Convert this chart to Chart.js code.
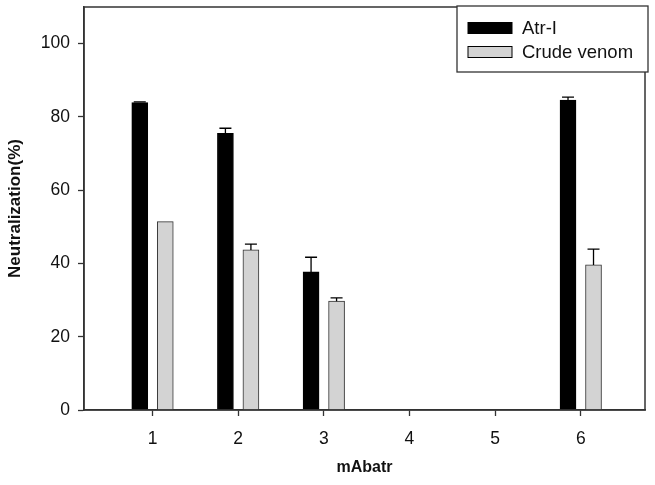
<!DOCTYPE html>
<html>
<head>
<meta charset="utf-8">
<script src="https://cdn.jsdelivr.net/npm/chart.js@4.4.1/dist/chart.umd.min.js"></script>
<style>
  html, body { margin: 0; padding: 0; background: #fff; }
  #wrap { width: 655px; height: 485px; }
</style>
</head>
<body>
<div id="wrap"><canvas id="grafico" width="655" height="485"></canvas></div>
<script>
// dados
const categorias = [1, 2, 3, 4, 5, 6];
const atrI       = [83.9, 75.5, 37.7, null, null, 84.6];
const atrIErr    = [0.2, 1.4, 4.0, null, null, 0.8];
const crude      = [51.4, 43.7, 29.7, null, null, 39.6];
const crudeErr   = [0, 1.6, 0.9, null, null, 4.3];
const yTicks     = [0, 20, 40, 60, 80, 100];
const legenda    = ['Atr-I', 'Crude venom'];

const FONT = 'Arial, "Liberation Sans", sans-serif';

// barras de erro (só para cima)
const errorBars = {
  id: 'errorBars',
  afterDatasetsDraw(chart) {
    const ctx = chart.ctx;
    const y = chart.scales.y;
    chart.data.datasets.forEach((ds, i) => {
      const meta = chart.getDatasetMeta(i);
      meta.data.forEach((bar, j) => {
        const v = ds.data[j].y, e = ds.err[j];
        if (v == null || !e) return;
        const top = y.getPixelForValue(v + e);
        ctx.save();
        ctx.strokeStyle = '#000';
        ctx.lineWidth = 1.3;
        ctx.beginPath();
        ctx.moveTo(bar.x, bar.y);
        ctx.lineTo(bar.x, top);
        ctx.moveTo(bar.x - 6, top);
        ctx.lineTo(bar.x + 6, top);
        ctx.stroke();
        ctx.restore();
      });
    });
  }
};

// moldura + legenda
const moldura = {
  id: 'moldura',
  afterDraw(chart) {
    const { ctx, chartArea: a } = chart;
    ctx.save();
    ctx.strokeStyle = '#333';
    ctx.lineWidth = 1.5;
    ctx.strokeRect(a.left, a.top, a.right - a.left, a.bottom - a.top);

    // caixa da legenda
    ctx.fillStyle = '#fff';
    ctx.fillRect(457, 6, 191, 66);
    ctx.strokeStyle = '#333';
    ctx.lineWidth = 1.3;
    ctx.strokeRect(457, 6, 191, 66);

    ctx.font = '18.5px ' + FONT;
    ctx.textBaseline = 'middle';
    chart.data.datasets.forEach((ds, i) => {
      const yy = 28 + i * 24;
      ctx.fillStyle = ds.backgroundColor;
      ctx.fillRect(468, yy - 5.5, 44, 11);
      ctx.strokeStyle = '#000';
      ctx.lineWidth = 1;
      ctx.strokeRect(468, yy - 5.5, 44, 11);
      ctx.fillStyle = '#111';
      ctx.fillText(ds.label, 522, yy + 1);
    });
    ctx.restore();
  }
};

new Chart(document.getElementById('grafico'), {
  type: 'bar',
  data: {
    datasets: [
      {
        label: legenda[0],
        data: categorias.map((c, i) => ({ x: c, y: atrI[i] })),
        err: atrIErr,
        backgroundColor: '#000',
        borderColor: '#000',
        borderWidth: 1
      },
      {
        label: legenda[1],
        data: categorias.map((c, i) => ({ x: c, y: crude[i] })),
        err: crudeErr,
        backgroundColor: '#d3d3d3',
        borderColor: '#333',
        borderWidth: 1
      }
    ]
  },
  options: {
    responsive: false,
    animation: false,
    barThickness: 25.5,
    maxBarThickness: 16,
    layout: { padding: { top: 7, right: 10, left: 0, bottom: 0 } },
    plugins: {
      legend: { display: false },
      tooltip: { enabled: false }
    },
    scales: {
      x: {
        type: 'linear',
        min: 0.2,
        max: 6.75,
        offset: false,
        afterBuildTicks: s => { s.ticks = categorias.map(v => ({ value: v })); },
        afterFit: s => { s.height = 75; s.paddingLeft = 0; s.paddingRight = 0; },
        border: { display: true, color: '#333', width: 1.5 },
        grid: { offset: false, drawOnChartArea: false, drawTicks: true, tickLength: 6, color: '#333', tickWidth: 1.3 },
        ticks: { color: '#111', padding: 13, font: { family: FONT, size: 17.5 } },
        title: {
          display: true, text: 'mAbatr', color: '#111',
          font: { family: FONT, size: 16, weight: 'bold' },
          padding: { top: 0, bottom: 8 }
        }
      },
      y: {
        min: 0,
        max: 110,
        afterBuildTicks: s => { s.ticks = yTicks.map(v => ({ value: v })); },
        afterFit: s => { s.width = 84; s.paddingTop = 0; s.paddingBottom = 0; },
        border: { display: true, color: '#333', width: 1.5 },
        grid: { drawOnChartArea: false, drawTicks: true, tickLength: 6, color: '#333', tickWidth: 1.3 },
        ticks: { color: '#111', padding: 8, font: { family: FONT, size: 17.5 } },
        title: {
          display: true, text: 'Neutralization(%)', color: '#111',
          font: { family: FONT, size: 17, weight: 'bold' },
          padding: { top: 5, bottom: 0 }
        }
      }
    }
  },
  plugins: [errorBars, moldura]
});
</script>
</body>
</html>
